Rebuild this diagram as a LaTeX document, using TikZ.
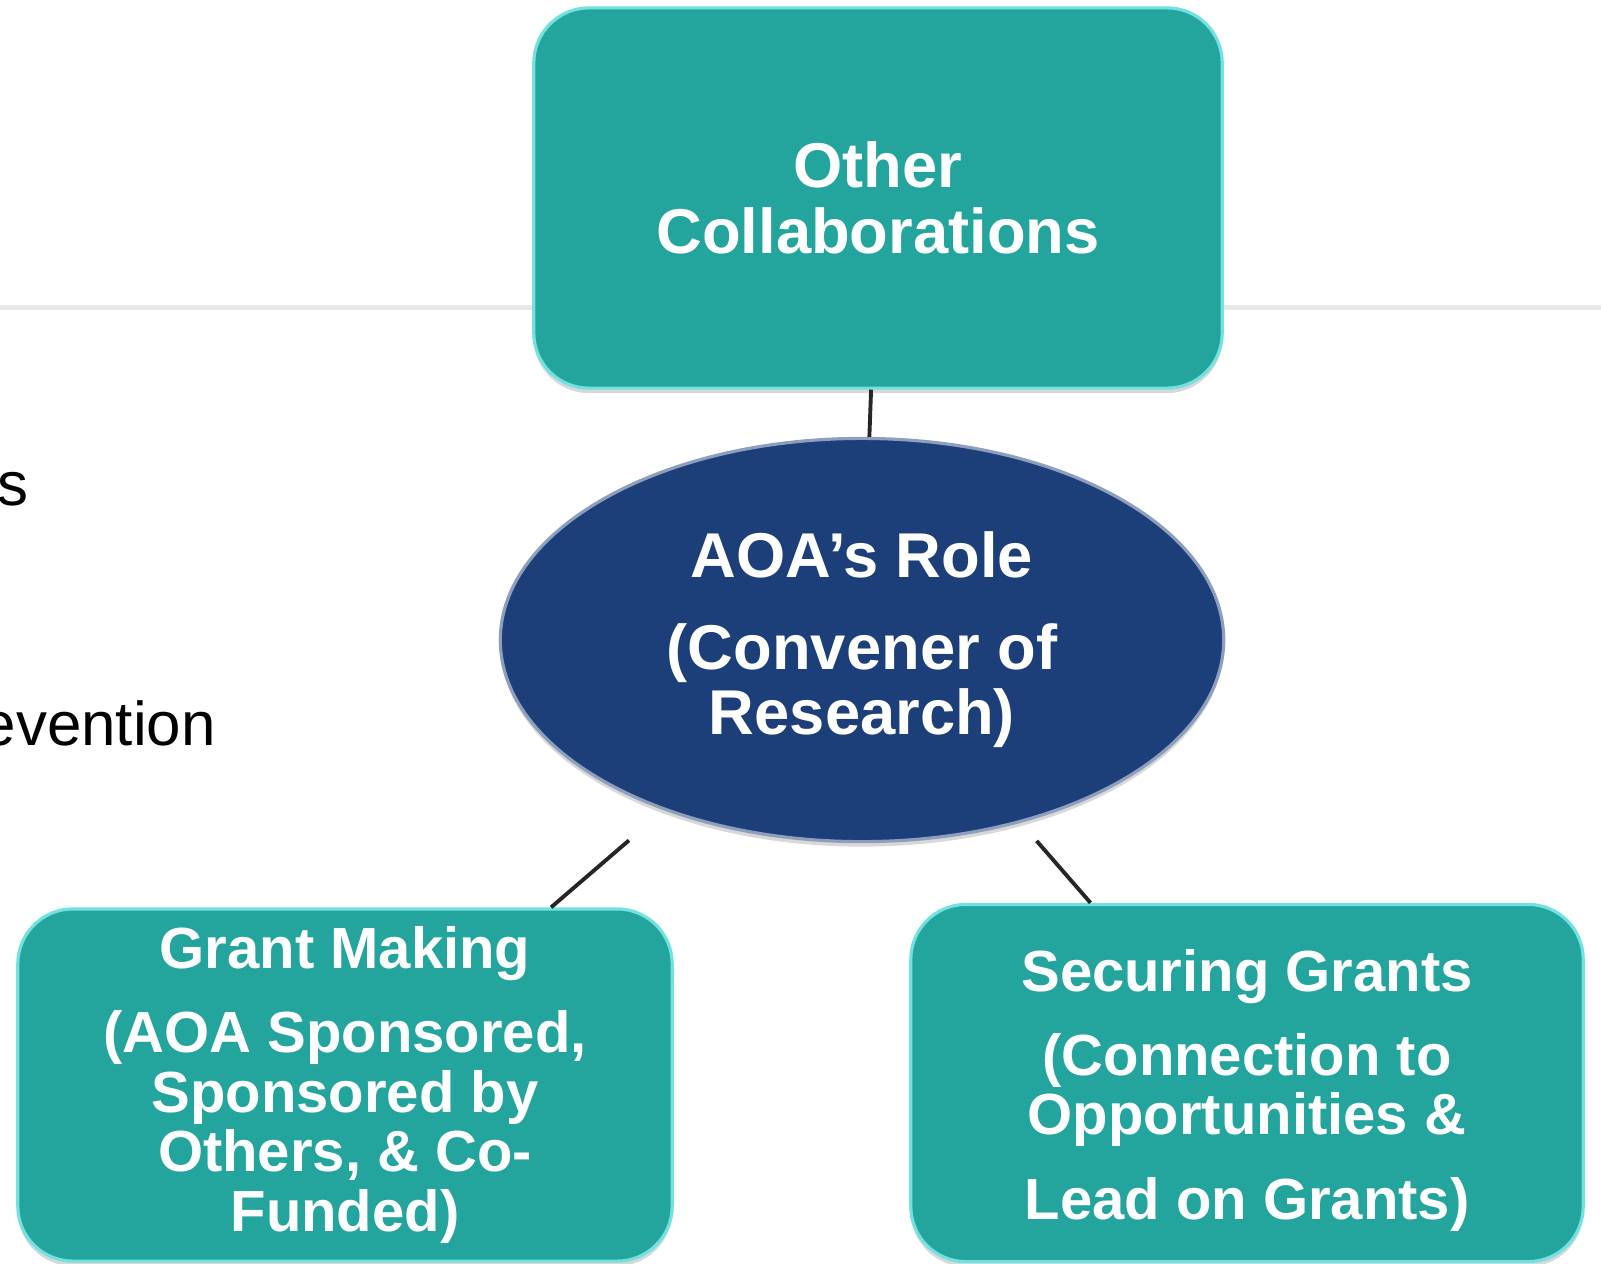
\documentclass[tikz,border=0pt]{standalone}
\usepackage{fontspec}
\setmainfont{Liberation Sans}
\usetikzlibrary{shapes.geometric,shadows}
\definecolor{boxteal}{HTML}{23A59D}
\definecolor{rolenavy}{HTML}{1C3F7A}
\definecolor{rulegray}{HTML}{E8E8E8}
\tikzset{
  topicbox/.style={draw=boxteal!55!cyan!60!white,line width=0.9pt,fill=boxteal,
    rounded corners=0.55cm,text=white,align=center,
    font=\bfseries\fontsize{16.5}{17}\selectfont,
    drop shadow={shadow xshift=0pt,shadow yshift=-0.05cm,opacity=0.3}},
  rolenode/.style={ellipse,draw=rolenavy!50!white,line width=0.9pt,fill=rolenavy,
    text=white,align=center,font=\bfseries\fontsize{18}{18.5}\selectfont,
    drop shadow={shadow xshift=0pt,shadow yshift=-0.05cm,opacity=0.3}},
  link/.style={draw=black!85,line width=1.1pt},
  cuttext/.style={anchor=base west,inner sep=0pt,font=\fontsize{17.6}{20}\selectfont}
}
\begin{document}
\begin{tikzpicture}[x=0.01cm,y=-0.01cm]
  \useasboundingbox[fill=white] (0,0) rectangle (1601,1263);
  \draw[rulegray,line width=0.05cm] (0,307) -- (1601,307);
  \node[cuttext] (tails) at (-3,505) {s};
  \node[cuttext] (prev) at (-19,745) {evention};
  \node[topicbox,minimum width=6.88cm,minimum height=3.8cm,
    font=\bfseries\fontsize{18}{18.8}\selectfont] (other) at (878,198) {Other\\Collaborations};
  \node[rolenode,minimum width=7.23cm,minimum height=4.03cm] (role) at (862,640)
    {AOA’s Role\\[7.7pt](Convener of\\Research)};
  \node[topicbox,minimum width=6.54cm,minimum height=3.52cm] (grant) at (345,1085)
    {Grant Making\\[6.9pt](AOA Sponsored,\\Sponsored by\\Others, \& Co-\\Funded)};
  \node[topicbox,minimum width=6.72cm,minimum height=3.57cm] (secure) at (1247,1083)
    {\rule{0pt}{16pt}Securing Grants\\[6.9pt](Connection to\\Opportunities \&\\[7pt]Lead on Grants)};
  \draw[link] (role) -- (other);
  \draw[link,shorten <=0.46cm] (role) -- (grant);
  \draw[link,shorten <=0.24cm] (role) -- (secure);
\end{tikzpicture}
\end{document}
